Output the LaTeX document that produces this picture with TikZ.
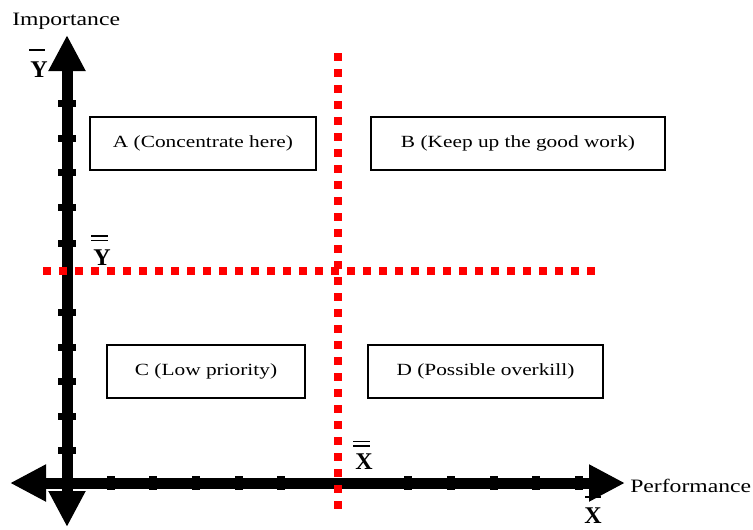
\documentclass[tikz,border=0pt]{standalone}
\usepackage{fontspec}
\setmainfont[FakeStretch=1.25]{Liberation Serif}
\newfontfamily\barfont{Liberation Serif}
\usetikzlibrary{arrows.meta}
\begin{document}
\begin{tikzpicture}[x=0.75pt,y=-0.75pt,
  axisline/.style={line width=8.25pt,>={Triangle[length=27pt,width=26pt]},<->},
  reddots/.style={red,line width=6pt,dash pattern=on 6pt off 6pt,line cap=butt},
  quad/.style={draw,line width=1.2pt,minimum width=#1,inner sep=0pt,minimum height=40pt,font=\fontsize{12.8}{15}\selectfont},
  axlabel/.style={anchor=base west,inner sep=0pt,font=\fontsize{14.2}{16}\selectfont},
  barlabel/.style={inner sep=0pt,font=\barfont\fontsize{18}{20}\selectfont\bfseries},
  barline/.style={line width=1.1pt}]
\useasboundingbox (0,0) rectangle (753,529);
% axis end points
\coordinate (xl) at (10,483);
\coordinate (xr) at (625,483);
\coordinate (yb) at (67,527);
\coordinate (yt) at (67,35);
% bar labels (bars first so arrow heads may cover them)
\draw[barline] (585,497) -- (601,497);
\node[barlabel] (xbar) at (593,516) {X};
\node[barlabel] (ybar) at (39,70) {Y};
\draw[barline] (29,50) -- (45,50);
\node[barlabel] (ybb) at (102,258) {Y};
\draw[barline] (91,236) -- (108,236);
\draw[barline] (91,240.5) -- (108,240.5);
\node[barlabel] (xbb) at (364,462) {X};
\draw[barline] (353,441.5) -- (370,441.5);
\draw[barline] (353,446) -- (370,446);
% axes
\draw[axisline] (xl) -- (xr);
\draw[axisline] (yb) -- (yt);
% ticks
\foreach \y in {103,138,172,207,243,312,347,381,416,450}
  \fill (58,\y-3.5) rectangle (76,\y+3.5);
\foreach \x in {111,153,196,239,281,408,451,494,536,579}
  \fill (\x-4,476) rectangle (\x+4,490);
% red dotted means
\draw[reddots] (338,53) -- (338,509);
\draw[reddots] (43,271) -- (595,271);
% axis labels
\node[axlabel] (imp) at (12,25) {Importance};
\node[axlabel] (perf) at (630,492) {Performance};
% quadrant boxes
\node[quad=169.5pt] (A) at (203,143.5) {A (Concentrate here)};
\node[quad=220.5pt] (B) at (518,143.5) {B (Keep up the good work)};
\node[quad=148.5pt] (C) at (206,371.5) {C (Low priority)};
\node[quad=176.25pt] (D) at (485.5,371.5) {D (Possible overkill)};
\end{tikzpicture}
\end{document}
